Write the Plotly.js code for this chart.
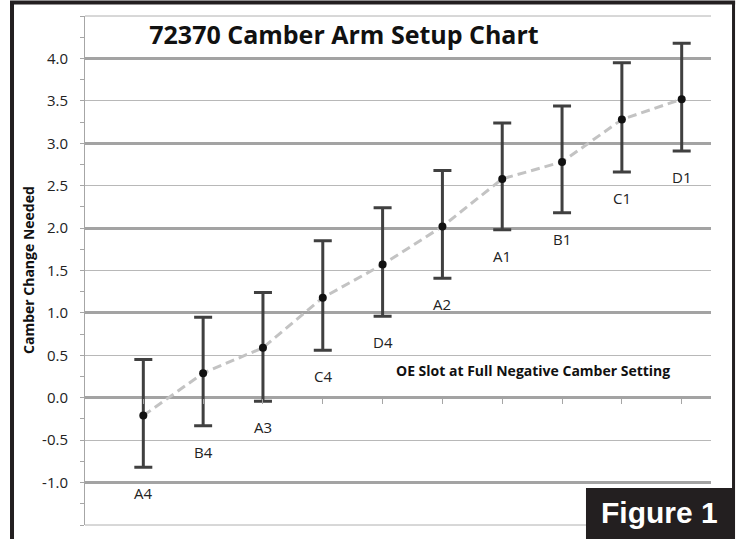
<!DOCTYPE html>
<html>
<head>
<meta charset="utf-8">
<script src="https://cdn.plot.ly/plotly-3.0.1.min.js"></script>
<style>
  html, body { margin: 0; padding: 0; background: #ffffff; }
  #chart { width: 738px; height: 539px; }
</style>
</head>
<body>
<div id="chart"></div>
<script>
// ---- data ----
const slots  = ['A4', 'B4', 'A3', 'C4', 'D4', 'A2', 'A1', 'B1', 'C1', 'D1'];
const xPos   = [1, 2, 3, 4, 5, 6, 7, 8, 9, 10];
const center = [-0.21, 0.29, 0.59, 1.18, 1.57, 2.02, 2.58, 2.78, 3.28, 3.52];
const upper  = [0.45, 0.95, 1.24, 1.85, 2.24, 2.68, 3.24, 3.44, 3.95, 4.18];
const lower  = [-0.82, -0.33, -0.04, 0.56, 0.96, 1.41, 1.98, 2.18, 2.66, 2.91];
const yTicks = [-1.0, -0.5, 0.0, 0.5, 1.0, 1.5, 2.0, 2.5, 3.0, 3.5, 4.0];

const chartTitle = '72370 Camber Arm Setup Chart';
const yTitle = 'Camber Change Needed';
const noteText = 'OE Slot at Full Negative Camber Setting';
const figText = 'Figure 1';

const plusErr  = upper.map((u, i) => +(u - center[i]).toFixed(3));
const minusErr = lower.map((l, i) => +(center[i] - l).toFixed(3));

const FONT = 'Open Sans, Noto Sans, sans-serif';
const INK = '#231f20';

const lineTrace = {
  x: xPos, y: center, type: 'scatter', mode: 'lines',
  line: { color: '#c3c3c3', width: 3, dash: '9px,5px' },
  hoverinfo: 'skip', showlegend: false
};
const pointTrace = {
  x: xPos, y: center, type: 'scatter', mode: 'markers',
  marker: { color: '#111111', size: 8 },
  error_y: {
    type: 'data', symmetric: false, array: plusErr, arrayminus: minusErr,
    color: '#404040', thickness: 3, width: 9
  },
  text: slots, hoverinfo: 'text+y', showlegend: false
};
// second y-axis (same scale) carries the heavy whole-number gridlines
const gridTrace = {
  x: xPos, y: center, type: 'scatter', mode: 'none', yaxis: 'y2',
  hoverinfo: 'skip', showlegend: false
};

const labelAnns = slots.map((s, i) => ({
  x: xPos[i], y: lower[i], xref: 'x', yref: 'y', text: s, showarrow: false,
  yanchor: 'middle', xanchor: 'center', yshift: -26,
  font: { family: FONT, size: 15, color: '#222222' }
}));

const layout = {
  width: 738, height: 539,
  margin: { l: 85, r: 27, t: 16, b: 14 },
  paper_bgcolor: '#ffffff', plot_bgcolor: '#ffffff',
  showlegend: false,
  title: {
    text: '<b>' + chartTitle + '</b>',
    font: { family: FONT, size: 25, color: '#111111' },
    xref: 'paper', x: 0.4137, xanchor: 'center',
    yref: 'container', y: 0.935, yanchor: 'middle'
  },
  xaxis: {
    range: [0.025, 10.49], anchor: 'free', position: 0.25,
    tickvals: xPos, showticklabels: false,
    ticks: 'outside', ticklen: 5, tickwidth: 1, tickcolor: '#a6a6a6',
    showgrid: false, zeroline: false, showline: false, fixedrange: true
  },
  yaxis: {
    range: [-1.5, 4.5], tickvals: yTicks, ticktext: yTicks.map(v => v.toFixed(1)),
    ticks: 'outside', ticklen: 4, tickcolor: '#a6a6a6', ticklabelstandoff: 9,
    tickfont: { family: FONT, size: 15, color: '#222222' },
    showgrid: true, gridcolor: '#b8b8b8', gridwidth: 1,
    zeroline: false, showline: true, linecolor: '#a6a6a6', linewidth: 1,
    minor: { dtick: 0.25, tick0: 0, ticks: 'outside', ticklen: 4, tickcolor: '#a6a6a6', showgrid: false },
    fixedrange: true
  },
  yaxis2: {
    overlaying: 'y', side: 'left', range: [-1.5, 4.5], dtick: 1, tick0: 0,
    showticklabels: false, ticks: '', showgrid: true, gridcolor: '#a3a3a3', gridwidth: 3,
    zeroline: false, showline: false, fixedrange: true
  },
  shapes: [
    // plot frame top and bottom
    { type: 'line', xref: 'paper', yref: 'paper', x0: 0, x1: 1, y0: 1, y1: 1, line: { color: '#b0b0b0', width: 1 } },
    { type: 'line', xref: 'paper', yref: 'paper', x0: 0, x1: 1, y0: 0, y1: 0, line: { color: '#b0b0b0', width: 1 } },
    // outer border
    { type: 'line', xref: 'paper', yref: 'paper', x0: -0.1166, x1: -0.1166, y0: -0.05, y1: 1.0295, line: { color: INK, width: 4 } },
    { type: 'line', xref: 'paper', yref: 'paper', x0: -0.1198, x1: 1.0385, y0: 1.0265, y1: 1.0265, line: { color: INK, width: 4 } },
    { type: 'line', xref: 'paper', yref: 'paper', x0: 1.036, x1: 1.036, y0: -0.05, y1: 1.0295, line: { color: INK, width: 3 } },
    // figure badge
    { type: 'rect', xref: 'paper', yref: 'paper', x0: 0.8003, x1: 1.0367, y0: -0.05, y1: 0.0727, fillcolor: INK, line: { width: 0 } }
  ],
  annotations: labelAnns.concat([
    {
      xref: 'paper', yref: 'paper', x: -0.0895, y: 0.501, text: '<b>' + yTitle + '</b>',
      textangle: -90, showarrow: false, xanchor: 'center', yanchor: 'middle',
      font: { family: FONT, size: 14, color: '#111111' }
    },
    {
      xref: 'paper', yref: 'paper', x: 0.7157, y: 0.3045, text: '<b>' + noteText + '</b>',
      showarrow: false, xanchor: 'center', yanchor: 'middle',
      font: { family: FONT, size: 14, color: '#111111' }
    },
    {
      xref: 'paper', yref: 'paper', x: 0.9185, y: 0.0236, text: '<b>' + figText + '</b>',
      showarrow: false, xanchor: 'center', yanchor: 'middle',
      font: { family: 'Liberation Sans, Arial, sans-serif', size: 30, color: '#ffffff' }
    }
  ])
};

Plotly.newPlot('chart', [gridTrace, lineTrace, pointTrace], layout, { displayModeBar: false, staticPlot: true });
</script>
</body>
</html>
